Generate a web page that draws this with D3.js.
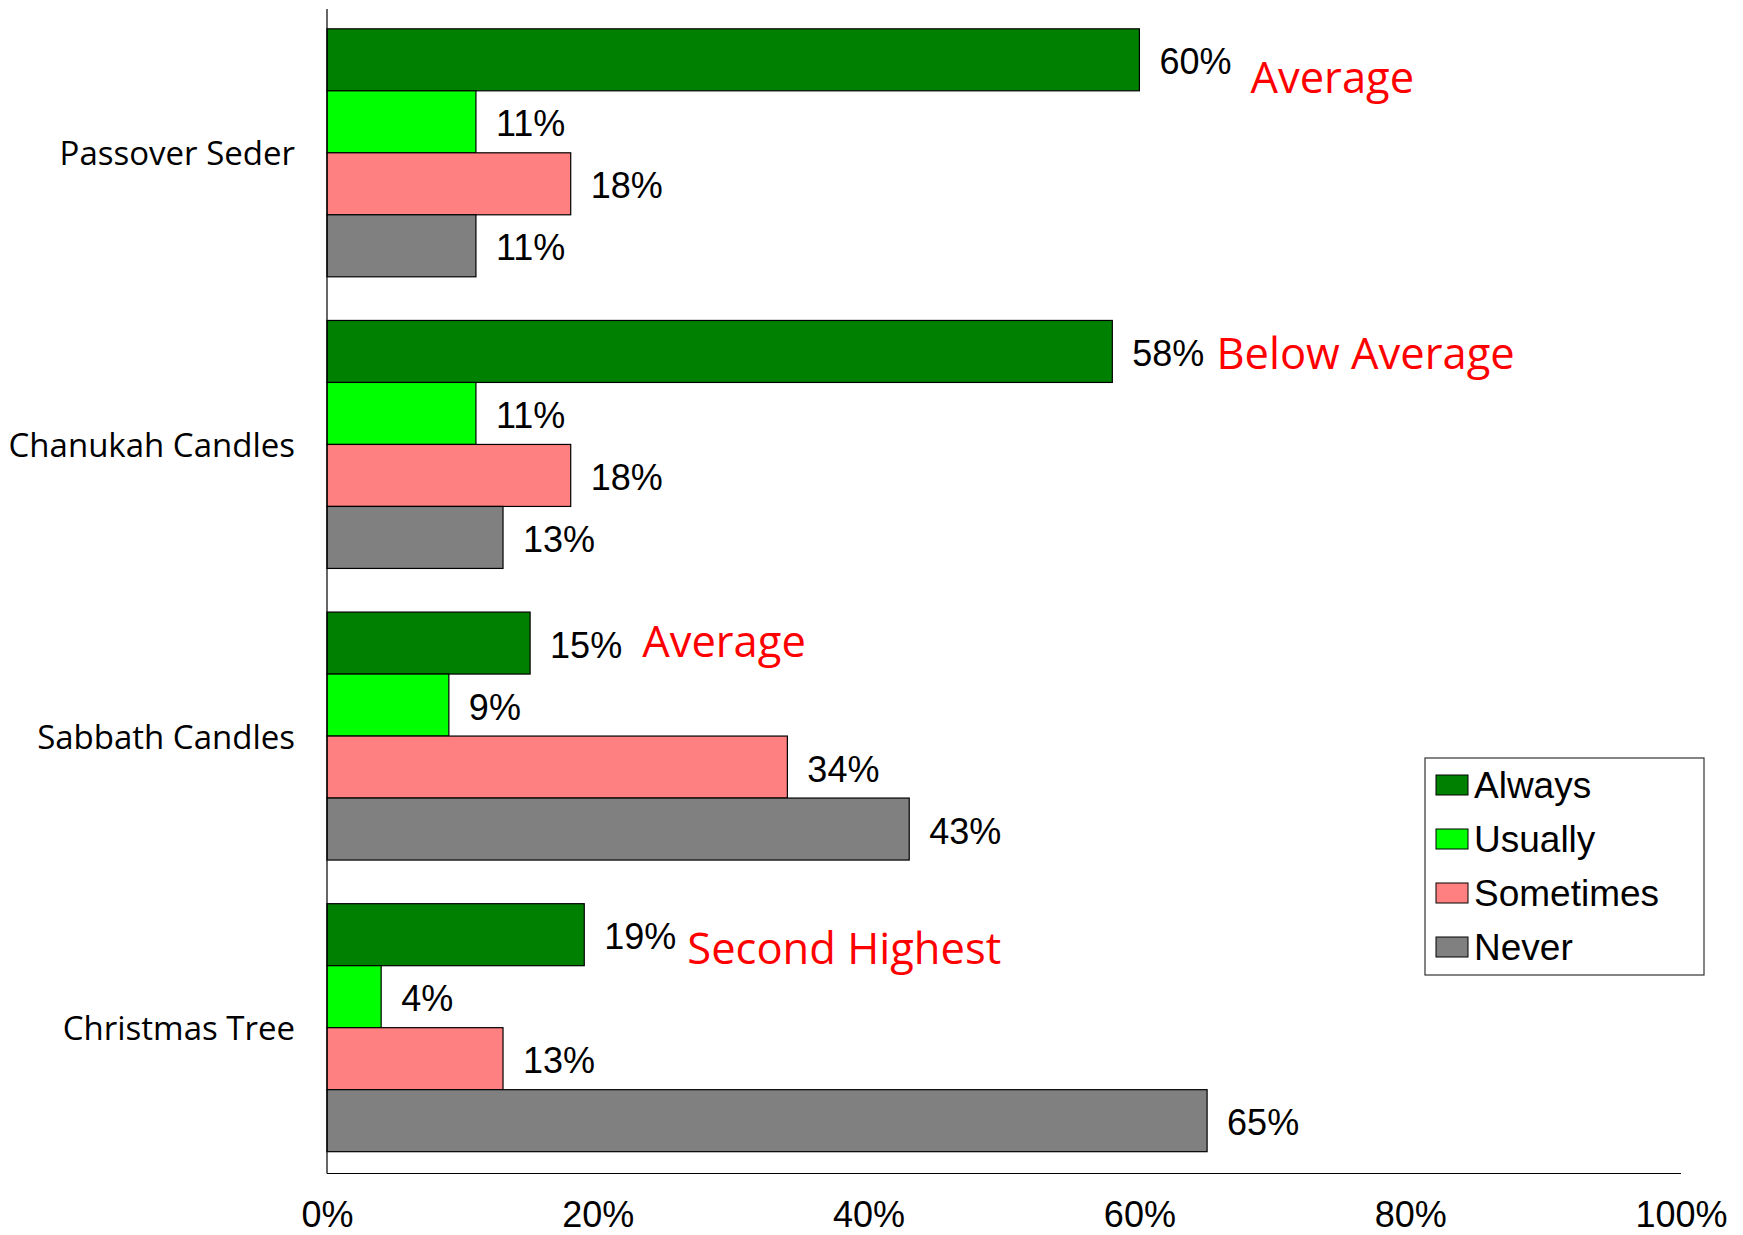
<!DOCTYPE html>
<html><head><meta charset="utf-8">
<script src="https://cdn.jsdelivr.net/npm/d3@7"></script>
<style>body{margin:0;background:#fff}svg{display:block}</style>
</head><body>
<svg id="c" width="1743" height="1235"></svg>
<script>
const categories = ["Passover Seder", "Chanukah Candles", "Sabbath Candles", "Christmas Tree"];
const seriesNames = ["Always", "Usually", "Sometimes", "Never"];
const seriesColors = ["#008000", "#00FF00", "#FF8080", "#808080"];
const always    = [60, 58, 15, 19];
const usually   = [11, 11, 9, 4];
const sometimes = [18, 18, 34, 13];
const never     = [11, 13, 43, 65];
const tickValues = [0, 20, 40, 60, 80, 100];
const annotations = ["Average", "Below Average", "Average", "Second Highest"];
// small layout offsets for annotations (gap after value label, baseline below bar centre)
const annotGap = [19, 12, 20, 11];
const annotDy = [33, 17.5, 14, 29];

const seriesValues = [always, usually, sometimes, never];
const svg = d3.select("#c");
const plotLeft = 327, plotRight = 1681, plotTop = 7, plotBottom = 1173.5;

const x = d3.scaleLinear().domain([0, 100]).range([plotLeft, plotRight]);
const y0 = d3.scaleBand().domain(categories).range([plotTop, plotBottom]).padding(0);
const y1 = d3.scaleBand().domain(seriesNames).range([0, y0.bandwidth()]).paddingInner(0).paddingOuter(0.352);

const valueFont = "'Liberation Sans', Arial, sans-serif";
const catFont = "'Open Sans', 'Noto Sans', sans-serif";

// bars
const g = svg.append("g");
categories.forEach((cat, ci) => {
  seriesNames.forEach((s, si) => {
    const v = seriesValues[si][ci];
    const yy = y0(cat) + y1(s);
    g.append("rect")
      .attr("x", x(0)).attr("y", yy)
      .attr("width", x(v) - x(0)).attr("height", y1.bandwidth())
      .attr("fill", seriesColors[si]).attr("stroke", "#000").attr("stroke-width", 1.2);
    const t = g.append("text")
      .attr("x", x(v) + 20).attr("y", yy + y1.bandwidth() / 2 + 2)
      .attr("dominant-baseline", "central")
      .attr("font-family", valueFont).attr("font-size", 36).attr("fill", "#000")
      .text(v + "%");
    if (si === 0) {
      const end = x(v) + 20 + t.node().getComputedTextLength();
      g.append("text")
        .attr("x", end + annotGap[ci]).attr("y", yy + y1.bandwidth() / 2 + annotDy[ci])
        .attr("font-family", catFont).attr("font-size", 43.5).attr("fill", "#FF0000")
        .text(annotations[ci]);
    }
  });
});

// axes lines
svg.append("line").attr("x1", plotLeft).attr("x2", plotLeft).attr("y1", 9).attr("y2", plotBottom)
  .attr("stroke", "#000").attr("stroke-width", 1.2);
svg.append("line").attr("x1", plotLeft).attr("x2", plotRight).attr("y1", plotBottom).attr("y2", plotBottom)
  .attr("stroke", "#000").attr("stroke-width", 1.2);

// x axis tick labels via d3 axis
const xAxis = d3.axisBottom(x).tickValues(tickValues).tickSize(0).tickPadding(0).tickFormat(d => d + "%");
const ax = svg.append("g").attr("transform", `translate(0,${plotBottom})`).call(xAxis);
ax.select(".domain").remove();
ax.selectAll("text").attr("font-family", valueFont).attr("font-size", 36).attr("fill", "#000")
  .attr("dy", null).attr("y", 41).attr("dominant-baseline", "central");

// y axis category labels
const yAxis = d3.axisLeft(y0).tickSize(0).tickPadding(32);
const ay = svg.append("g").attr("transform", `translate(${plotLeft},0)`).call(yAxis);
ay.select(".domain").remove();
ay.selectAll("text").attr("font-family", catFont).attr("font-size", 33).attr("fill", "#000")
  .attr("dy", null).attr("dominant-baseline", "central");

// legend
const lg = svg.append("g");
lg.append("rect").attr("x", 1425).attr("y", 758).attr("width", 279).attr("height", 217)
  .attr("fill", "#fff").attr("stroke", "#333").attr("stroke-width", 1.2);
seriesNames.forEach((s, i) => {
  const cy = 785 + i * 54;
  lg.append("rect").attr("x", 1436).attr("y", cy - 10).attr("width", 32).attr("height", 20)
    .attr("fill", seriesColors[i]).attr("stroke", "#000").attr("stroke-width", 1);
  lg.append("text").attr("x", 1474).attr("y", cy).attr("dominant-baseline", "central")
    .attr("font-family", valueFont).attr("font-size", 37).attr("fill", "#000").text(s);
});
</script>
</body></html>
